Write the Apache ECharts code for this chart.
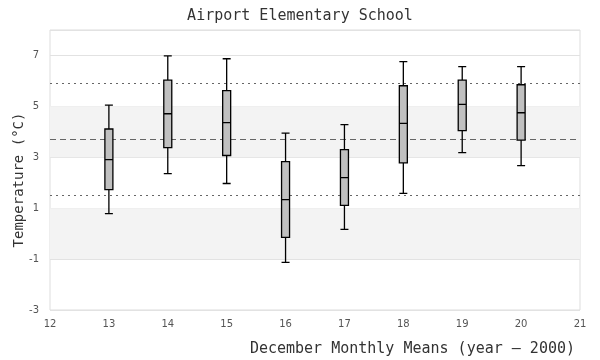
<!DOCTYPE html>
<html>
<head>
<meta charset="utf-8">
<script src="https://cdn.jsdelivr.net/npm/echarts@6/dist/echarts.min.js"></script>
<style>html,body{margin:0;padding:0;background:#fff}#c{width:600px;height:360px}</style>
</head>
<body>
<div id="c"></div>
<script>
var years = [13, 14, 15, 16, 17, 18, 19, 20];
var whiskerLow  = [0.79, 2.36, 1.97, -1.13, 0.17, 1.58, 3.18, 2.67];
var q1          = [1.73, 3.38, 3.07, -0.15, 1.11, 2.78, 4.05, 3.67];
var medians     = [2.91, 4.71, 4.36, 1.34, 2.20, 4.33, 5.08, 4.75];
var q3          = [4.11, 6.03, 5.62, 2.83, 3.30, 5.81, 6.03, 5.85];
var whiskerHigh = [5.05, 6.98, 6.87, 3.95, 4.28, 6.76, 6.56, 6.56];
var overallMean = 3.69;
var lowerBand = 1.50;
var upperBand = 5.89;
var shadedBands = [[-1, 1], [3, 5]];
var yTicks = [-3, -1, 1, 3, 5, 7];
var xTicks = [12, 13, 14, 15, 16, 17, 18, 19, 20, 21];

var boxData = years.map(function (y, i) {
  return [y, whiskerLow[i], q1[i], medians[i], q3[i], whiskerHigh[i]];
});

var chart = echarts.init(document.getElementById('c'), null, {renderer: 'canvas'});
chart.setOption({
  animation: false,
  backgroundColor: '#fff',
  title: [{
    text: 'Airport Elementary School',
    left: 'center', top: 4,
    textStyle: {fontFamily: 'DejaVu Sans Mono', fontSize: 15, fontWeight: 'normal', color: '#333'}
  }, {
    text: 'December Monthly Means (year \u2013 2000)',
    right: 20, top: 337,
    textStyle: {fontFamily: 'DejaVu Sans Mono', fontSize: 15, fontWeight: 'normal', color: '#333'}
  }],
  graphic: [{
    type: 'text',
    x: 19, y: 180, rotation: Math.PI / 2,
    style: {
      text: 'Temperature (\u00b0C)', align: 'center', verticalAlign: 'middle',
      font: '14px "DejaVu Sans Mono"', fill: '#333'
    }
  }],
  grid: {left: 50, right: 20, top: 30, bottom: 50, show: true, borderColor: '#ddd', borderWidth: 1},
  xAxis: {
    type: 'value', min: xTicks[0], max: xTicks[xTicks.length - 1], interval: 1,
    axisLine: {show: false}, axisTick: {show: false}, splitLine: {show: false},
    axisLabel: {fontFamily: 'DejaVu Sans', fontSize: 10, color: '#555', margin: 9}
  },
  yAxis: {
    type: 'value', min: yTicks[0], max: 8, interval: 2,
    axisLine: {show: false}, axisTick: {show: false},
    splitLine: {lineStyle: {color: '#e2e2e2'}},
    axisLabel: {fontFamily: 'DejaVu Sans', fontSize: 10, color: '#555', margin: 11, showMaxLabel: false}
  },
  series: [{
    type: 'boxplot',
    layout: 'horizontal',
    data: boxData,
    boxWidth: [8, 8],
    itemStyle: {color: '#c0c0c0', borderColor: '#000', borderWidth: 1.3},
    silent: true,
    z: 5,
    markArea: {
      silent: true,
      itemStyle: {color: '#f3f3f3'},
      data: shadedBands.map(function (b) { return [{yAxis: b[0]}, {yAxis: b[1]}]; })
    }
  }, {
    type: 'line',
    data: [],
    z: 3,
    markLine: {
      silent: true, symbol: 'none', label: {show: false},
      data: [
        {yAxis: overallMean, lineStyle: {type: [6, 4], color: '#666', width: 1.2}},
        {yAxis: lowerBand, lineStyle: {type: [2, 4], color: '#666', width: 1.2}},
        {yAxis: upperBand, lineStyle: {type: [2, 4], color: '#666', width: 1.2}}
      ]
    }
  }]
});
</script>
</body>
</html>
